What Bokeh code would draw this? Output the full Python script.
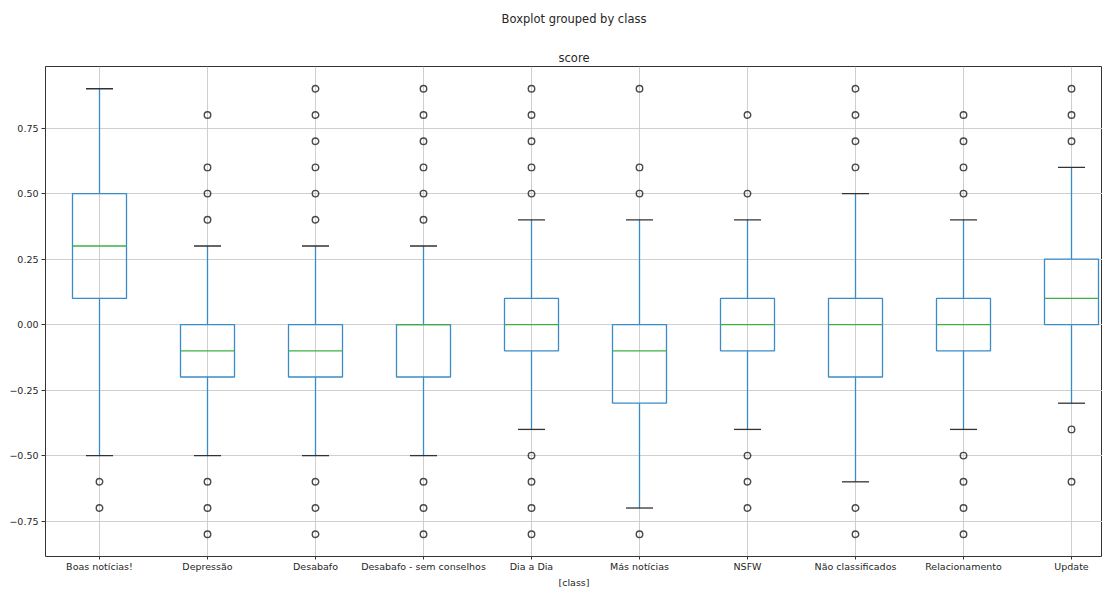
from bokeh.plotting import figure
from bokeh.models import Range1d, FixedTicker, Title, ColumnDataSource
from bokeh.embed import file_html
from bokeh.resources import INLINE

categories = ["Boas notícias!", "Depressão", "Desabafo", "Desabafo - sem conselhos",
              "Dia a Dia", "Más notícias", "NSFW", "Não classificados",
              "Relacionamento", "Update"]
q1 = [0.1, -0.2, -0.2, -0.2, -0.1, -0.3, -0.1, -0.2, -0.1, 0.0]
median = [0.3, -0.1, -0.1, 0.0, 0.0, -0.1, 0.0, 0.0, 0.0, 0.1]
q3 = [0.5, 0.0, 0.0, 0.0, 0.1, 0.0, 0.1, 0.1, 0.1, 0.25]
whisker_low = [-0.5, -0.5, -0.5, -0.5, -0.4, -0.7, -0.4, -0.6, -0.4, -0.3]
whisker_high = [0.9, 0.3, 0.3, 0.3, 0.4, 0.4, 0.4, 0.5, 0.4, 0.6]
outliers = [
    [-0.6, -0.7],
    [0.4, 0.5, 0.6, 0.8, -0.6, -0.7, -0.8],
    [0.4, 0.5, 0.6, 0.7, 0.8, 0.9, -0.6, -0.7, -0.8],
    [0.4, 0.5, 0.6, 0.7, 0.8, 0.9, -0.6, -0.7, -0.8],
    [0.5, 0.6, 0.7, 0.8, 0.9, -0.5, -0.6, -0.7, -0.8],
    [0.5, 0.6, 0.9, -0.8],
    [0.5, 0.8, -0.5, -0.6, -0.7],
    [0.6, 0.7, 0.8, 0.9, -0.7, -0.8],
    [0.5, 0.6, 0.7, 0.8, -0.5, -0.6, -0.7, -0.8],
    [0.7, 0.8, 0.9, -0.4, -0.6],
]
y_ticks = [-0.75, -0.5, -0.25, 0.0, 0.25, 0.5, 0.75]

BLUE = "#3a8cc8"
GREEN = "#3cb043"
CAP = "#333333"
TEXT = "#262626"
FONT = "DejaVu Sans"

pos = list(range(1, len(categories) + 1))
box_w = 0.5
cap_w = 0.25

src = ColumnDataSource(dict(
    x=pos, q1=q1, med=median, q3=q3, lo=whisker_low, hi=whisker_high,
    bl=[x - box_w / 2 for x in pos], br=[x + box_w / 2 for x in pos],
    cl=[x - cap_w / 2 for x in pos], cr=[x + cap_w / 2 for x in pos],
))
fx, fy = [], []
for i, vals in enumerate(outliers):
    for v in vals:
        fx.append(pos[i])
        fy.append(v)
fsrc = ColumnDataSource(dict(x=fx, y=fy))

p = figure(width=1102, height=587, output_backend="svg", toolbar_location=None,
           x_range=Range1d(0.5, 10.287), y_range=Range1d(-0.885, 0.985),
           min_border_left=45, min_border_right=0, min_border_bottom=28,
           min_border_top=0)
p.background_fill_color = "white"
p.border_fill_color = "white"
p.outline_line_color = "#333333"
p.outline_line_width = 1

# outermost title (suptitle)
p.title.text = "Boxplot grouped by class"
p.title.align = "center"
p.title.text_font = FONT
p.title.text_font_size = "11.5px"
p.title.text_font_style = "normal"
p.title.text_color = TEXT
p.title.standoff = 18
# subplot title, closest to the frame
p.add_layout(Title(text="score", align="center", text_font=FONT,
                   text_font_size="11.5px", text_font_style="normal",
                   text_color=TEXT, standoff=4), "above")
# spacer between the two titles
p.add_layout(Title(text=" ", align="center", text_font=FONT,
                   text_font_size="1px", text_color=TEXT, standoff=9), "above")

# x axis label as a title below the tick labels
p.add_layout(Title(text="[class]", align="center", text_font=FONT,
                   text_font_size="9.5px", text_font_style="normal",
                   text_color=TEXT, standoff=0), "below")

# grid
p.xgrid.ticker = FixedTicker(ticks=pos)
p.ygrid.ticker = FixedTicker(ticks=y_ticks)
for g in (p.xgrid, p.ygrid):
    g.grid_line_color = "#cfcfcf"
    g.grid_line_width = 1

# axes
p.xaxis.ticker = FixedTicker(ticks=pos)
p.xaxis.major_label_overrides = {x: c for x, c in zip(pos, categories)}
p.yaxis.ticker = FixedTicker(ticks=y_ticks)
p.yaxis.major_label_overrides = {t: (f"{t:.2f}".replace("-", "\u2212")) for t in y_ticks}
for ax in (p.xaxis, p.yaxis):
    ax.axis_line_color = None
    ax.major_tick_line_color = "#333333"
    ax.major_tick_out = 4
    ax.major_tick_in = 0
    ax.minor_tick_line_color = None
    ax.major_label_text_font = FONT
    ax.major_label_text_font_size = "9.5px"
    ax.major_label_text_color = TEXT
    ax.major_label_standoff = 3
p.xaxis.major_tick_out = 3
p.xaxis.major_label_standoff = 1

# whiskers
p.segment(x0="x", y0="q3", x1="x", y1="hi", source=src, line_color=BLUE, line_width=1.3)
p.segment(x0="x", y0="q1", x1="x", y1="lo", source=src, line_color=BLUE, line_width=1.3)
# caps
p.segment(x0="cl", y0="hi", x1="cr", y1="hi", source=src, line_color=CAP, line_width=1.3)
p.segment(x0="cl", y0="lo", x1="cr", y1="lo", source=src, line_color=CAP, line_width=1.3)
# boxes
p.quad(left="bl", right="br", bottom="q1", top="q3", source=src,
       fill_color=None, line_color=BLUE, line_width=1.3)
# medians
p.segment(x0="bl", y0="med", x1="br", y1="med", source=src, line_color=GREEN, line_width=1.3)
# fliers
p.scatter(x="x", y="y", source=fsrc, marker="circle", size=6.5,
          fill_color=None, line_color="#2a2a2a", line_width=1.4, line_alpha=0.85)

open("out.html", "w").write(file_html(p, INLINE))
